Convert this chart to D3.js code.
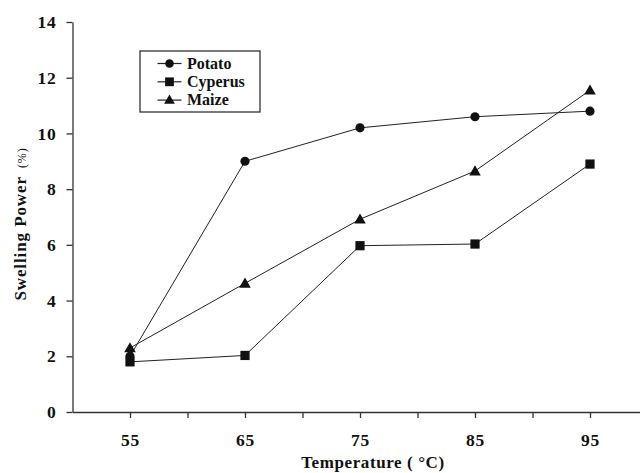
<!DOCTYPE html>
<html>
<head>
<meta charset="utf-8">
<script src="https://cdn.jsdelivr.net/npm/d3@7"></script>
<style>
  body { margin: 0; background: #fff; }
  text { font-family: "Liberation Serif", "Times New Roman", serif; font-weight: bold; fill: #111; }
</style>
</head>
<body>
<div id="chart"></div>
<script>
// data
var temps = [55, 65, 75, 85, 95];
var potato = [2.0, 9.0, 10.2, 10.6, 10.8];
var cyperus = [1.8, 2.03, 5.97, 6.03, 8.9];
var maize = [2.3, 4.62, 6.92, 8.65, 11.55];
var seriesNames = ["Potato", "Cyperus", "Maize"];
var seriesSymbols = [d3.symbolCircle, d3.symbolSquare, d3.symbolTriangle];
var yTicks = [0, 2, 4, 6, 8, 10, 12, 14];

const width = 640, height = 473;

const svg = d3.select("#chart").append("svg")
  .attr("width", width)
  .attr("height", height);

// scales
const x = d3.scaleLinear().domain([50, 100]).range([72.5, 647.5]);
const y = d3.scaleLinear().domain([0, 14]).range([412, 22]);

// axes
const xAxis = d3.axisBottom(x)
  .tickValues([55, 60, 65, 70, 75, 80, 85, 90, 95])
  .tickSize(6)
  .tickSizeOuter(0)
  .tickFormat(d => (d % 10 == 5 ? d : ""));

const yAxis = d3.axisLeft(y)
  .tickValues(yTicks)
  .tickSize(6)
  .tickSizeOuter(0)
  .tickFormat(d3.format("d"));

const xg = svg.append("g")
  .attr("transform", `translate(0,${y(0)})`)
  .call(xAxis);
xg.select(".domain").attr("stroke", "#333").attr("stroke-width", 1.3);
xg.selectAll(".tick line").attr("stroke", "#333").attr("stroke-width", 1.3);
xg.selectAll("text")
  .attr("dy", "0")
  .attr("y", 34)
  .style("font-size", "17.5px")
  .style("letter-spacing", "0.8px")
  .style("font-family", "Liberation Serif, serif")
  .style("font-weight", "bold")
  .attr("fill", "#111");

const yg = svg.append("g")
  .attr("transform", `translate(${x(50)},0)`)
  .call(yAxis);
yg.select(".domain").attr("stroke", "#333").attr("stroke-width", 1.3);
yg.selectAll(".tick line").attr("stroke", "#333").attr("stroke-width", 1.3);
yg.selectAll("text")
  .attr("x", -16)
  .style("font-size", "17.5px")
  .style("letter-spacing", "0.8px")
  .style("font-family", "Liberation Serif, serif")
  .style("font-weight", "bold")
  .attr("fill", "#111");

// axis titles
svg.append("text")
  .attr("x", 373)
  .attr("y", 468)
  .attr("text-anchor", "middle")
  .style("font-size", "17px")
  .style("letter-spacing", "0.6px")
  .text("Temperature ( \u00b0C)");

const yTitle = svg.append("text")
  .attr("transform", "translate(26,224) rotate(-90)")
  .attr("text-anchor", "middle")
  .style("font-size", "17px")
  .style("letter-spacing", "0.9px");
yTitle.append("tspan").text("Swelling Power");
yTitle.append("tspan").attr("dx", 8).style("font-size", "12px").style("font-weight", "normal").text("(%)");

// lines + markers
const allSeries = [potato, cyperus, maize];
const line = d3.line()
  .x((d, i) => x(temps[i]))
  .y(d => y(d));

const symbolSizes = [66, 85, 58];

allSeries.forEach(function(vals, s) {
  svg.append("path")
    .datum(vals)
    .attr("d", line)
    .attr("fill", "none")
    .attr("stroke", "#222")
    .attr("stroke-width", 1);
});

[0, 1, 2].forEach(function(s) {
  svg.selectAll(".m" + s)
    .data(allSeries[s])
    .enter()
    .append("path")
    .attr("class", "m" + s)
    .attr("d", d3.symbol().type(seriesSymbols[s]).size(symbolSizes[s]))
    .attr("transform", (d, i) => `translate(${x(temps[i])},${y(d) + (s == 2 ? 1 : 0)})`)
    .attr("fill", "#111");
});

// legend
const legend = svg.append("g").attr("transform", "translate(140,51)");
legend.append("rect")
  .attr("width", 120)
  .attr("height", 61)
  .attr("fill", "#fff")
  .attr("stroke", "#222")
  .attr("stroke-width", 1.2);

seriesNames.forEach(function(name, i) {
  const row = legend.append("g").attr("transform", `translate(0,${12.5 + i * 18.3})`);
  row.append("line")
    .attr("x1", 17.5).attr("x2", 41.5)
    .attr("y1", 0).attr("y2", 0)
    .attr("stroke", "#222").attr("stroke-width", 1.2);
  row.append("path")
    .attr("d", d3.symbol().type(seriesSymbols[i]).size(symbolSizes[i] - 8))
    .attr("transform", `translate(29.5,${i == 2 ? 0.5 : 0})`)
    .attr("fill", "#111");
  row.append("text")
    .attr("x", 47)
    .attr("y", 5)
    .style("font-size", "16px")
    .text(name);
});
</script>
</body>
</html>
